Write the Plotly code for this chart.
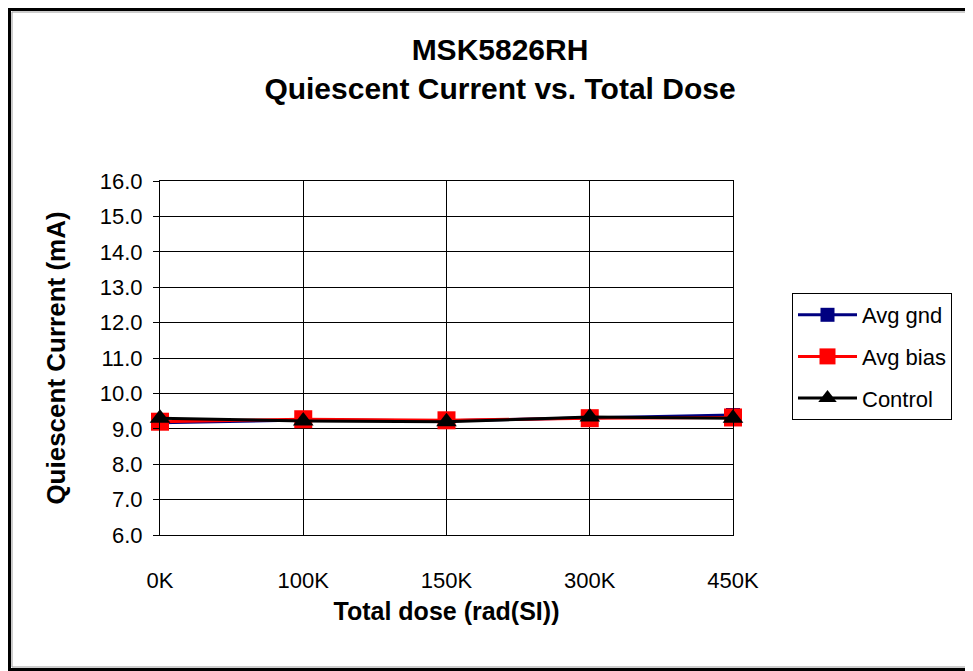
import plotly.graph_objects as go

doses = ["0K", "100K", "150K", "300K", "450K"]
avg_gnd = [9.17, 9.25, 9.23, 9.32, 9.39]
avg_bias = [9.20, 9.27, 9.24, 9.30, 9.32]
control = [9.30, 9.22, 9.20, 9.33, 9.30]

W, H = 973, 671
OFF = 8  # page body margin
L, R, T, B = 160 - OFF, 733 - OFF, 181 - OFF, 535 - OFF

fig = go.Figure()
fig.add_trace(go.Scatter(x=doses, y=avg_gnd, name="Avg gnd", mode="lines+markers", legendgroup="a",
                         line=dict(color="#000080", width=3),
                         marker=dict(symbol="square", size=14, color="#000080"), cliponaxis=False))
fig.add_trace(go.Scatter(x=doses, y=avg_bias, name="Avg bias", mode="lines+markers", legendgroup="b",
                         line=dict(color="#FF0000", width=3),
                         marker=dict(symbol="square", size=18, color="#FF0000"), cliponaxis=False))
fig.add_trace(go.Scatter(x=doses, y=control, name="Control", mode="lines+markers", legendgroup="c",
                         line=dict(color="#000000", width=3),
                         marker=dict(symbol="triangle-up", size=18, color="#000000"), cliponaxis=False))


def px(x):
    return (x - OFF - L) / (R - L)


def py(y):
    return (B - (y - OFF)) / (B - T)


fig.update_layout(
    width=W, height=H,
    margin=dict(l=L, r=W - R, t=T, b=H - B),
    paper_bgcolor="white", plot_bgcolor="white",
    font=dict(family="Liberation Sans, Arial", color="black", size=22),
    title=dict(text="<b>MSK5826RH<br>Quiescent Current vs. Total Dose</b>",
               x=(500 - OFF) / W, xanchor="center", y=1 - (60 - OFF) / H, yanchor="top",
               font=dict(size=30)),
    xaxis=dict(type="category", range=[0, 4], showgrid=True, gridcolor="black", gridwidth=1,
               showline=True, linecolor="black", linewidth=1, mirror=True,
               ticks="", tickfont=dict(size=22), ticklabelstandoff=26,
               title=dict(text="<b>Total dose (rad(SI))</b>", font=dict(size=25), standoff=10)),
    yaxis=dict(range=[6, 16], dtick=1, tickformat=".1f", showgrid=True, gridcolor="black",
               gridwidth=1, showline=True, linecolor="black", linewidth=1, mirror=True,
               ticks="outside", ticklen=6, tickcolor="black", tickfont=dict(size=22),
               ticklabelstandoff=6, zeroline=False,
               title=dict(text="<b>Quiescent Current (mA)</b>", font=dict(size=26), standoff=26)),
    legend=dict(x=px(792), y=py(293), xanchor="left", yanchor="top",
                bordercolor="black", borderwidth=1, bgcolor="white",
                font=dict(size=22), tracegroupgap=10, itemwidth=59, traceorder="grouped"),
    showlegend=True,
)

fig.add_shape(type="rect", xref="paper", yref="paper",
              x0=px(9.5), x1=px(990), y0=py(669.5), y1=py(9.5),
              line=dict(color="black", width=3))
fig.add_shape(type="rect", xref="paper", yref="paper",
              x0=px(12), x1=px(985), y0=py(667), y1=py(12),
              line=dict(color="#999999", width=1))

fig.write_html("out.html")
